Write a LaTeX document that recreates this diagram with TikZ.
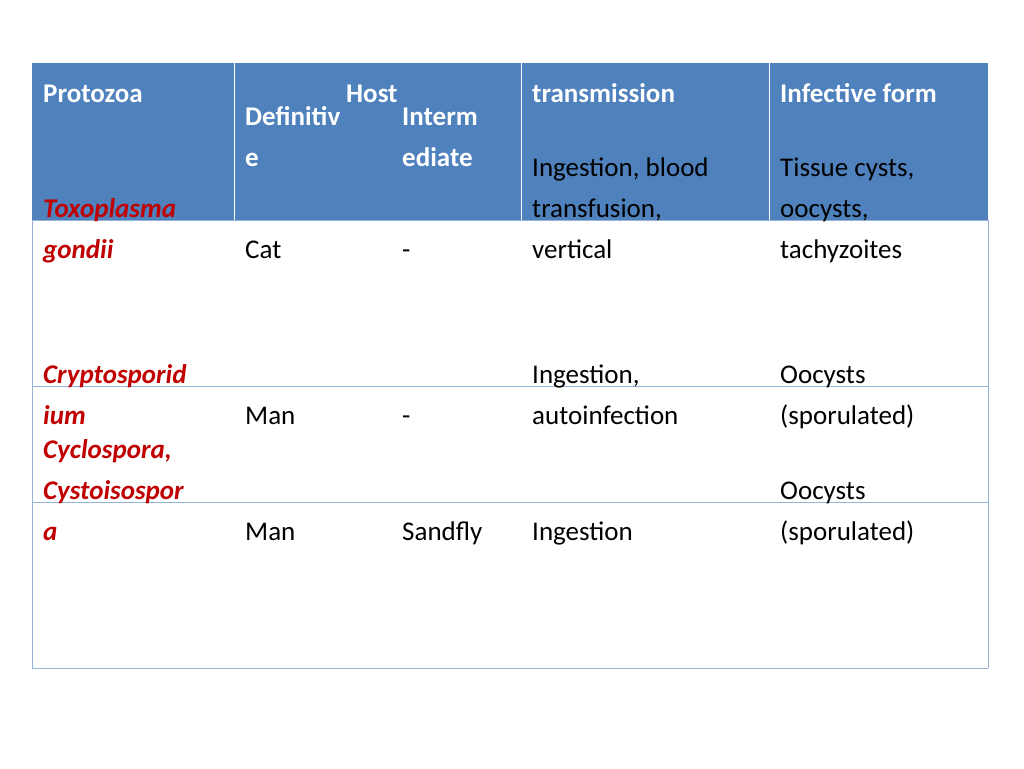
\documentclass[tikz,border=0pt]{standalone}
\usepackage{fontspec}
\setmainfont{Carlito}
\usetikzlibrary{positioning}
\definecolor{hdrblue}{HTML}{4F81BD}
\definecolor{gridblue}{HTML}{95B3D7}
\definecolor{namered}{HTML}{C00000}
\tikzset{
  tcell/.style={anchor=base west,inner sep=0pt,align=left,font=\fontsize{27}{41}\selectfont},
  thdr/.style={tcell,text=white,font=\fontsize{27}{41}\selectfont\bfseries},
  tname/.style={tcell,text=namered,font=\fontsize{27}{41}\selectfont\bfseries\itshape}
}
\begin{document}
\begin{tikzpicture}[x=1pt,y=-1pt]
\useasboundingbox (0,0) rectangle (1024,768);
% Header
\fill[hdrblue] (32,63) rectangle (988,220);
\foreach \x in {234,521,769} \draw[white,thick] (\x,63) -- (\x,220);
% Body grid
\foreach \y in {220,386,502,668} \draw[gridblue,thick] (32,\y) -- (988,\y);
\draw[gridblue,thick] (32,220) -- (32,668);
\draw[gridblue,thick] (988,220) -- (988,668);

% Header texts
\node[thdr] (protozoa) at (43,102) {Protozoa};
\node[thdr] (host) at (346,102) {Host};
\node[thdr] (mode) at (532,102) {Mode of\\transmission};
\node[thdr] (infective) at (780,102) {Infective form};
\node[thdr] (definitive) at (245,166) {Definitiv\\e};
\node[thdr] (intermediate) at (402,166) {Interm\\ediate};

% Row 1
\node[tname] (toxo) at (43,258) {Toxoplasma\\gondii};
\node[tcell] (cat) at (245,258) {Cat};
\node[tcell] (dash1) at (402,258) {-};
\node[tcell] (mode1) at (532,258) {Ingestion, blood\\transfusion,\\vertical};
\node[tcell] (form1) at (780,258) {Tissue cysts,\\oocysts,\\tachyzoites};

% Row 2
\node[tname] (crypto) at (43,424) {Cryptosporid\\ium};
\node[tcell] (man1) at (245,424) {Man};
\node[tcell] (dash2) at (402,424) {-};
\node[tcell] (mode2) at (532,424) {Ingestion,\\autoinfection};
\node[tcell] (form2) at (780,424) {Oocysts\\(sporulated)};

% Row 3
\node[tname] (cyclo) at (43,540) {Cyclospora,\\Cystoisospor\\a};
\node[tcell] (man2) at (245,540) {Man};
\node[tcell] (sandfly) at (402,540) {Sandfly};
\node[tcell] (mode3) at (532,540) {Ingestion};
\node[tcell] (form3) at (780,540) {Oocysts\\(sporulated)};
\end{tikzpicture}
\end{document}
